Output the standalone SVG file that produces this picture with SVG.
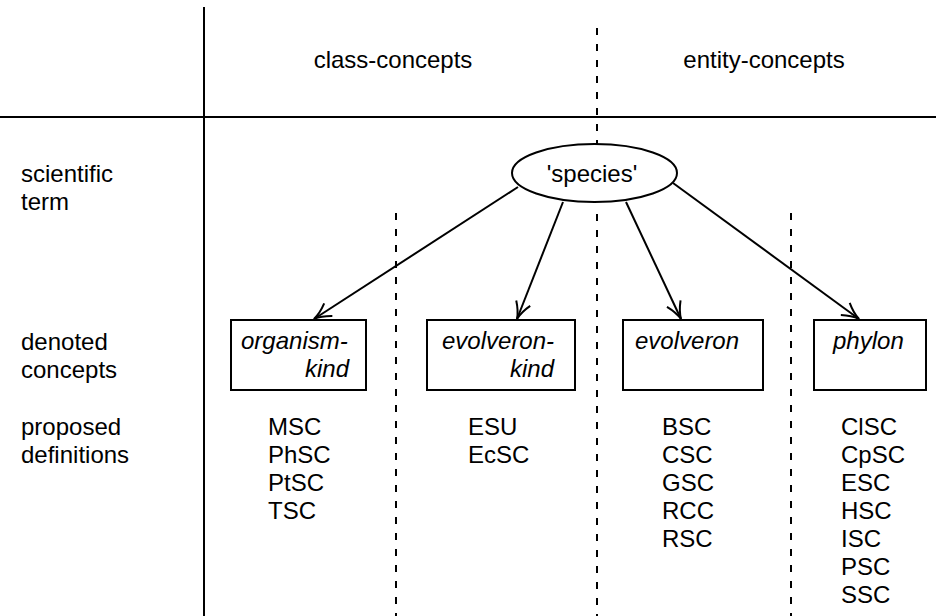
<svg xmlns="http://www.w3.org/2000/svg" width="936" height="616" viewBox="0 0 936 616">
<style>
text{font-family:"Liberation Sans",Arial,sans-serif;font-size:24px;fill:#000}
.it{font-style:italic}
.solid{stroke:#000;stroke-width:2;fill:none}
.dash{stroke:#000;stroke-width:2;fill:none;stroke-dasharray:7 9}
.box{fill:#fff;stroke:#000;stroke-width:2}
.conn{stroke:#000;stroke-width:2;fill:none;marker-end:url(#arr)}
</style>
<defs>
<marker id="arr" markerUnits="userSpaceOnUse" markerWidth="22" markerHeight="18" viewBox="-18 -9 20 18" refX="0" refY="0" orient="auto">
<path d="M-17,-7.5 Q-8,-1.5 0,0 Q-8,1.5 -17,7.5" fill="none" stroke="#000" stroke-width="2"/>
</marker>
</defs>
<g id="grid">
<line class="solid" x1="204" y1="7" x2="204" y2="616"/>
<line class="solid" x1="0" y1="117" x2="936" y2="117"/>
<line class="dash" x1="597" y1="28" x2="597" y2="144"/>
<line class="dash" x1="597" y1="214" x2="597" y2="616"/>
<line class="dash" x1="396" y1="213" x2="396" y2="616"/>
<line class="dash" x1="791" y1="213" x2="791" y2="616"/>
</g>
<g id="headers">
<text x="393" y="68" text-anchor="middle">class-concepts</text>
<text x="764" y="68" text-anchor="middle">entity-concepts</text>
</g>
<g id="row-labels">
<text x="21" y="182">scientific</text>
<text x="21" y="210">term</text>
<text x="21" y="350">denoted</text>
<text x="21" y="378">concepts</text>
<text x="21" y="435">proposed</text>
<text x="21" y="463">definitions</text>
</g>
<g id="connectors">
<line class="conn" x1="518" y1="187" x2="314" y2="319"/>
<line class="conn" x1="563" y1="202" x2="517" y2="319"/>
<line class="conn" x1="626" y1="202" x2="681" y2="319"/>
<line class="conn" x1="673" y1="183" x2="859" y2="319"/>
</g>
<g id="species">
<ellipse cx="594.5" cy="173" rx="82.5" ry="29" class="box"/>
<text x="592" y="182" text-anchor="middle">'species'</text>
</g>
<g id="organism-kind">
<rect class="box" x="231" y="320" width="135" height="70"/>
<text class="it" x="241" y="349">organism-</text>
<text class="it" x="349" y="377" text-anchor="end">kind</text>
</g>
<g id="evolveron-kind">
<rect class="box" x="427" y="320" width="148" height="70"/>
<text class="it" x="442" y="349">evolveron-</text>
<text class="it" x="554" y="377" text-anchor="end">kind</text>
</g>
<g id="evolveron">
<rect class="box" x="623" y="320" width="140" height="70"/>
<text class="it" x="635" y="349">evolveron</text>
</g>
<g id="phylon">
<rect class="box" x="814" y="320" width="112" height="70"/>
<text class="it" x="833" y="349">phylon</text>
</g>
<g id="defs-organism-kind">
<text x="268" y="435">MSC</text>
<text x="268" y="463">PhSC</text>
<text x="268" y="491">PtSC</text>
<text x="268" y="519">TSC</text>
</g>
<g id="defs-evolveron-kind">
<text x="468" y="435">ESU</text>
<text x="468" y="463">EcSC</text>
</g>
<g id="defs-evolveron">
<text x="662" y="435">BSC</text>
<text x="662" y="463">CSC</text>
<text x="662" y="491">GSC</text>
<text x="662" y="519">RCC</text>
<text x="662" y="547">RSC</text>
</g>
<g id="defs-phylon">
<text x="841" y="435">ClSC</text>
<text x="841" y="463">CpSC</text>
<text x="841" y="491">ESC</text>
<text x="841" y="519">HSC</text>
<text x="841" y="547">ISC</text>
<text x="841" y="575">PSC</text>
<text x="841" y="603">SSC</text>
</g>
</svg>
